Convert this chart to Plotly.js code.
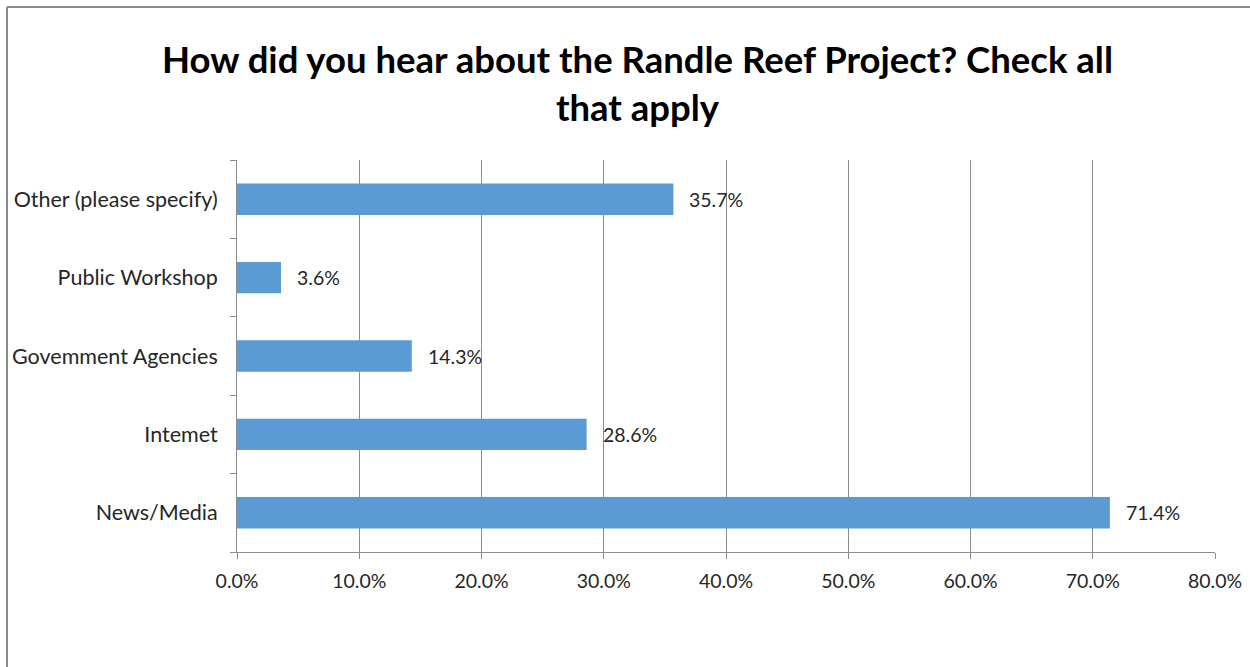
<!DOCTYPE html>
<html>
<head>
<meta charset="utf-8">
<script src="https://cdn.plot.ly/plotly-3.0.1.min.js"></script>
<style>html,body{margin:0;padding:0;background:#fff;}#chart{width:1250px;height:667px;}</style>
</head>
<body>
<div id="chart"></div>
<script>
const categories = ["News/Media", "Intemet", "Govemment Agencies", "Public Workshop", "Other (please specify)"];
const values = [71.4, 28.6, 14.3, 3.6, 35.7];
const valueLabels = ["71.4%", "28.6%", "14.3%", "3.6%", "35.7%"];
const tickValues = [0, 10, 20, 30, 40, 50, 60, 70, 80];
const tickLabels = ["0.0%", "10.0%", "20.0%", "30.0%", "40.0%", "50.0%", "60.0%", "70.0%", "80.0%"];
const titleText = "How did you hear about the Randle Reef Project? Check all<br>that apply";

const W = 1250, H = 667, L = 237, R = 35, T = 160, B = 115;
const pw = W - L - R, ph = H - T - B;
const FONT = "Lato, 'Open Sans', sans-serif";

const trace = {
  type: "bar",
  orientation: "h",
  y: categories,
  x: values,
  width: 0.4,
  marker: {color: "#5B9BD5"},
  cliponaxis: false,
  hoverinfo: "skip"
};

const labelAnnotations = categories.map((c, i) => ({
  x: values[i], y: c, xref: "x", yref: "y",
  text: valueLabels[i], showarrow: false,
  xanchor: "left", yanchor: "middle", xshift: 14,
  font: {family: FONT, size: 19.5, color: "#262626"}
}));

const layout = {
  width: W, height: H,
  margin: {l: L, r: R, t: T, b: B, pad: 0},
  paper_bgcolor: "#fff",
  plot_bgcolor: "#fff",
  showlegend: false,
  title: {
    text: "<b>" + titleText + "</b>",
    font: {family: FONT, size: 36.5, color: "#000"},
    x: 0.51, xanchor: "center",
    y: 0.89, yanchor: "top"
  },
  xaxis: {
    range: [0, 80],
    tickvals: tickValues,
    ticktext: tickLabels,
    showgrid: true,
    gridcolor: "#8c8c8c",
    gridwidth: 1,
    zeroline: false,
    showline: true,
    linecolor: "#8c8c8c",
    linewidth: 1,
    ticks: "outside",
    ticklen: 6,
    tickcolor: "#8c8c8c",
    ticklabelstandoff: 6,
    tickfont: {family: FONT, size: 19.5, color: "#262626"},
    fixedrange: true
  },
  yaxis: {
    type: "category",
    categoryorder: "array",
    categoryarray: categories,
    range: [-0.5, 4.5],
    showgrid: false,
    zeroline: false,
    showline: true,
    linecolor: "#8c8c8c",
    linewidth: 1,
    ticks: "outside",
    ticklen: 6,
    tickcolor: "#8c8c8c",
    tickson: "boundaries",
    ticklabelstandoff: 14,
    tickfont: {family: FONT, size: 21.5, color: "#262626"},
    fixedrange: true
  },
  annotations: labelAnnotations,
  shapes: [
    {type: "line", xref: "paper", yref: "paper",
     x0: (7 - L) / pw, x1: (W + 10 - L) / pw,
     y0: 1 + (T - 7) / ph, y1: 1 + (T - 7) / ph,
     line: {color: "#8c8c8c", width: 2}},
    {type: "line", xref: "paper", yref: "paper",
     x0: (7 - L) / pw, x1: (7 - L) / pw,
     y0: 1 + (T - 7) / ph, y1: -(B + 10) / ph,
     line: {color: "#8c8c8c", width: 2}}
  ]
};

Plotly.newPlot("chart", [trace], layout, {displayModeBar: false, staticPlot: true});
</script>
</body>
</html>
